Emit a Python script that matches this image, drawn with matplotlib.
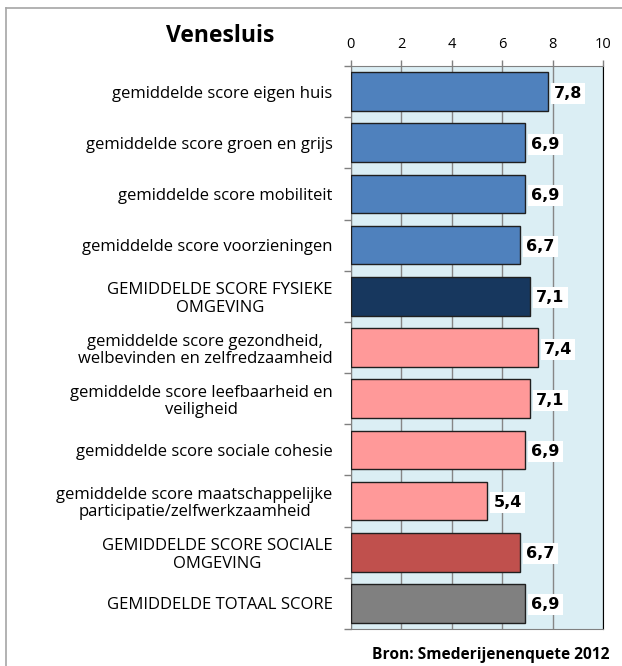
from matplotlib import pyplot as plt
from matplotlib.lines import Line2D
import numpy as np

# gegevens
categorieen = [
    "gemiddelde score eigen huis",
    "gemiddelde score groen en grijs",
    "gemiddelde score mobiliteit",
    "gemiddelde score voorzieningen",
    "GEMIDDELDE SCORE FYSIEKE\nOMGEVING",
    "gemiddelde score gezondheid,\nwelbevinden en zelfredzaamheid",
    "gemiddelde score leefbaarheid en\nveiligheid",
    "gemiddelde score sociale cohesie",
    "gemiddelde score maatschappelijke\nparticipatie/zelfwerkzaamheid",
    "GEMIDDELDE SCORE SOCIALE\nOMGEVING",
    "GEMIDDELDE TOTAAL SCORE",
]
scores = [7.8, 6.9, 6.9, 6.7, 7.1, 7.4, 7.1, 6.9, 5.4, 6.7, 6.9]
kleuren = ["#4F81BD", "#4F81BD", "#4F81BD", "#4F81BD", "#17375E",
           "#FF9999", "#FF9999", "#FF9999", "#FF9999", "#C0504D", "#808080"]
labels_score = ["7,8", "6,9", "6,9", "6,7", "7,1", "7,4", "7,1", "6,9", "5,4", "6,7", "6,9"]

lettertype = ["Open Sans", "DejaVu Sans"]

fig = plt.figure(figsize=(6.22, 6.66), dpi=100, facecolor="white")
# buitenrand (alleen links en boven zichtbaar)
x0, y0 = 6/622, 1 - 8/666
fig.add_artist(Line2D([x0, x0], [0, y0], transform=fig.transFigure, color="#A6A6A6", linewidth=1.2))
fig.add_artist(Line2D([x0, 1], [y0, y0], transform=fig.transFigure, color="#A6A6A6", linewidth=1.2))

ax = fig.add_axes([350.7/622, 1 - 629/666, 252.5/622, 563/666])
ax.set_facecolor("#DBEEF4")

n = len(scores)
y = np.arange(n)
ax.barh(y, scores, height=0.755, color=kleuren, edgecolor="#1F1F1F", linewidth=1.0, zorder=3)

ax.set_xlim(0, 10)
ax.set_ylim(n - 0.5, -0.5)
ax.set_xticks(np.arange(0, 11, 2))
ax.xaxis.tick_top()
ax.tick_params(axis="x", direction="out", length=4, width=1, color="#808080",
               labelsize=10.5, pad=6)
for t in ax.get_xticklabels():
    t.set_family(lettertype)
ax.grid(axis="x", color="#868686", linewidth=1.0, zorder=1)

ax.set_yticks(y)
ax.set_yticklabels(categorieen, family=lettertype, fontsize=12)
for t in ax.get_yticklabels():
    t.set_multialignment("center")
    t.set_linespacing(1.12)
ax.set_yticks(np.arange(n + 1) - 0.5, minor=True)
ax.tick_params(axis="y", which="major", length=0, pad=13)
ax.tick_params(axis="y", which="minor", length=5, width=1, color="#808080", direction="out")

for s in ["left", "top", "bottom"]:
    ax.spines[s].set_color("#808080")
ax.spines["right"].set_color("black")

# waarden
for i in range(n):
    ax.text(scores[i] + 0.25, y[i] + 0.03, labels_score[i], fontsize=11.5, fontweight="bold",
            family="DejaVu Sans", ha="left", va="center", zorder=4,
            bbox=dict(facecolor="white", edgecolor="none", pad=2.2))

fig.text(220/622, 1 - 36/666, "Venesluis", fontsize=16.5, fontweight="bold",
         family=lettertype, ha="center", va="center")
fig.text(609/622, 1 - 655/666, "Bron: Smederijenenquete 2012", fontsize=11.2,
         fontweight="bold", family=lettertype, ha="right", va="center")

fig.savefig("out.png", dpi=100, facecolor="white")
